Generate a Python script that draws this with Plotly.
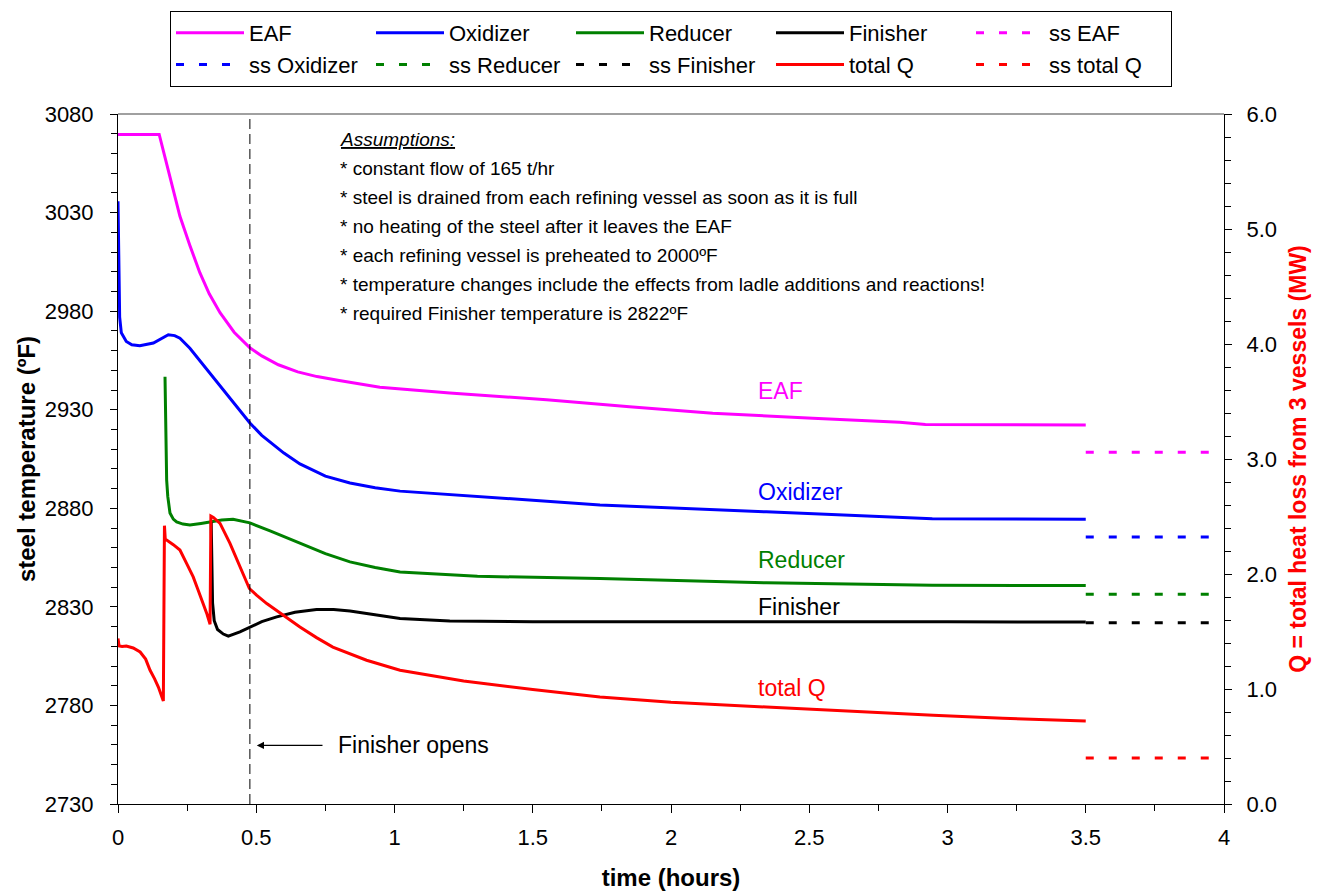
import plotly.graph_objects as go

# ---------------- data ----------------
eaf_t = [0, 0.149, 0.17, 0.2, 0.224, 0.26, 0.296, 0.33, 0.369, 0.42, 0.477, 0.52, 0.58, 0.65,
         0.72, 0.8, 0.9, 0.947, 1.2, 1.55, 1.85, 2.151, 2.513, 2.827, 2.92, 3.2, 3.5]
eaf_T = [3069.6, 3069.6, 3058, 3041.6, 3028.1, 3013.3, 2999.5, 2988.8, 2979.2, 2969.3, 2961.4,
         2957.3, 2952.8, 2949.2, 2946.8, 2944.8, 2942.5, 2941.4, 2938.5, 2935, 2931.5, 2928.2,
         2925.7, 2923.6, 2922.5, 2922.4, 2922.3]

ox_t = [0, 0.003, 0.006, 0.012, 0.03, 0.05, 0.079, 0.128, 0.16, 0.182, 0.205, 0.224, 0.26, 0.296,
        0.333, 0.369, 0.405, 0.441, 0.477, 0.52, 0.6, 0.658, 0.75, 0.839, 0.93, 1.02, 1.38, 1.743,
        2.345, 2.945, 3.5]
ox_T = [3035.7, 3000, 2977, 2969, 2964.6, 2962.9, 2962.4, 2963.8, 2966.5, 2968, 2967.6, 2966.3,
        2961.2, 2955, 2948.5, 2942, 2936, 2929.5, 2923.3, 2917, 2908, 2902.5, 2896.3, 2892.8,
        2890.4, 2888.7, 2885.2, 2881.7, 2878.2, 2874.7, 2874.5]

red_t = [0.17, 0.172, 0.174, 0.176, 0.18, 0.188, 0.2, 0.212, 0.235, 0.26, 0.3, 0.333, 0.375, 0.416,
         0.477, 0.55, 0.658, 0.75, 0.839, 0.93, 1.02, 1.3, 1.743, 2.345, 2.945, 3.5]
red_T = [2946.7, 2920, 2903, 2894.3, 2886, 2877.6, 2874.5, 2873.1, 2872, 2871.5, 2872.3, 2873.1,
         2874, 2874.4, 2872.6, 2868.5, 2862.2, 2857, 2852.8, 2850, 2847.7, 2845.5, 2844.4, 2842.2,
         2841, 2840.8]

fin_t = [0.337, 0.339, 0.342, 0.348, 0.36, 0.381, 0.399, 0.441, 0.477, 0.52, 0.574, 0.64, 0.718,
         0.78, 0.839, 0.93, 1.02, 1.2, 1.5, 2.0, 2.5, 3.0, 3.5]
fin_T = [2873, 2850, 2832, 2823, 2818.5, 2816.2, 2815.1, 2817.3, 2819.8, 2822.5, 2824.9, 2827.3,
         2828.6, 2828.6, 2827.9, 2826, 2824.1, 2822.8, 2822.4, 2822.5, 2822.6, 2822.4, 2822.3]

q_t = [0, 0.004, 0.015, 0.03, 0.055, 0.08, 0.1, 0.116, 0.132, 0.146, 0.164, 0.168, 0.171, 0.176,
       0.2, 0.224, 0.248, 0.272, 0.29, 0.308, 0.322, 0.333, 0.336, 0.345, 0.369, 0.405, 0.441,
       0.475, 0.501, 0.538, 0.598, 0.658, 0.718, 0.777, 0.899, 1.02, 1.25, 1.5, 1.743, 2.0, 2.345,
       2.65, 2.948, 3.2, 3.5]
q_Q = [1.44, 1.375, 1.37, 1.374, 1.357, 1.322, 1.26, 1.163, 1.09, 1.017, 0.895, 2.42, 2.30, 2.295,
       2.255, 2.208, 2.092, 1.975, 1.859, 1.743, 1.65, 1.563, 2.504, 2.492, 2.44, 2.266, 2.062,
       1.874, 1.816, 1.743, 1.642, 1.54, 1.447, 1.365, 1.25, 1.163, 1.07, 0.995, 0.93, 0.884,
       0.843, 0.805, 0.771, 0.745, 0.721]

ss_t = [3.5, 3.95]
ss_eaf = 2908.4
ss_ox = 2865.4
ss_red = 2836.4
ss_fin = 2822.0
ss_q = 0.40

finisher_open_t = 0.477

assumption_lines = [
    "<i><u>Assumptions:</u></i>",
    "* constant flow of 165 t/hr",
    "* steel is drained from each refining vessel as soon as it is full",
    "* no heating of the steel after it leaves the EAF",
    "* each refining vessel is preheated to 2000ºF",
    "* temperature changes include the effects from ladle additions and reactions!",
    "* required Finisher temperature is 2822ºF",
]

# ---------------- figure ----------------
FONT = "Arial, Liberation Sans, sans-serif"
MAG, BLUE, GREEN, BLACK, RED = "#FF00FF", "#0000FF", "#008000", "#000000", "#FF0000"
LW = 3
DASH = "8px,15px"

fig = go.Figure()
fig.add_trace(go.Scatter(x=eaf_t, y=eaf_T, name="EAF", mode="lines", line=dict(color=MAG, width=LW)))
fig.add_trace(go.Scatter(x=ox_t, y=ox_T, name="Oxidizer", mode="lines", line=dict(color=BLUE, width=LW)))
fig.add_trace(go.Scatter(x=red_t, y=red_T, name="Reducer", mode="lines", line=dict(color=GREEN, width=LW)))
fig.add_trace(go.Scatter(x=fin_t, y=fin_T, name="Finisher", mode="lines", line=dict(color=BLACK, width=LW)))
fig.add_trace(go.Scatter(x=ss_t, y=[ss_eaf] * 2, name="ss EAF", mode="lines",
                         line=dict(color=MAG, width=LW, dash=DASH)))
fig.add_trace(go.Scatter(x=ss_t, y=[ss_ox] * 2, name="ss Oxidizer", mode="lines",
                         line=dict(color=BLUE, width=LW, dash=DASH)))
fig.add_trace(go.Scatter(x=ss_t, y=[ss_red] * 2, name="ss Reducer", mode="lines",
                         line=dict(color=GREEN, width=LW, dash=DASH)))
fig.add_trace(go.Scatter(x=ss_t, y=[ss_fin] * 2, name="ss Finisher", mode="lines",
                         line=dict(color=BLACK, width=LW, dash=DASH)))
fig.add_trace(go.Scatter(x=q_t, y=q_Q, name="total Q", mode="lines", yaxis="y2",
                         line=dict(color=RED, width=LW)))
fig.add_trace(go.Scatter(x=ss_t, y=[ss_q] * 2, name="ss total Q", mode="lines", yaxis="y2",
                         line=dict(color=RED, width=LW, dash=DASH)))

tickfont = dict(family=FONT, size=22, color="black")
titlefont = dict(family=FONT, size=24, color="black")
common = dict(showgrid=False, zeroline=False)

fig.update_layout(
    width=1320, height=893,
    margin=dict(l=110, r=104, t=106, b=97),
    paper_bgcolor="white", plot_bgcolor="white",
    font=dict(family=FONT, size=20, color="black"),
    showlegend=True,
    legend=dict(orientation="h", x=0.5, xanchor="center", xref="paper",
                y=1 - 3 / 893, yanchor="top", yref="container",
                bordercolor="black", borderwidth=1, bgcolor="white",
                font=dict(family=FONT, size=22, color="black"),
                itemwidth=68, entrywidth=117, entrywidthmode="pixels", tracegroupgap=0),
    xaxis=dict(range=[0, 4], dtick=0.5, tick0=0, ticks="outside", ticklen=8, tickcolor="black",
               showline=True, linecolor="black", linewidth=1, tickfont=tickfont,
               ticklabelstandoff=6,
               minor=dict(dtick=0.25, ticks="outside", ticklen=6, tickcolor="black"),
               title=dict(text="<b>time (hours)</b>", font=titlefont, standoff=19),
               **common),
    xaxis2=dict(range=[0, 4], dtick=0.5, tick0=0, overlaying="x", anchor="y", side="bottom",
                ticks="inside", ticklen=8, tickcolor="black", showticklabels=False,
                showline=False, **common),
    yaxis=dict(range=[2730, 3080], dtick=50, tick0=2730, ticks="outside", ticklen=7,
               tickcolor="black", showline=True, linecolor="black", linewidth=1, tickfont=tickfont,
               ticklabelstandoff=12,
               minor=dict(dtick=10, ticks="outside", ticklen=6, tickcolor="black"),
               title=dict(text="<b>steel temperature (ºF)</b>", font=titlefont, standoff=2),
               **common),
    yaxis3=dict(range=[2730, 3080], dtick=50, tick0=2730, overlaying="y", anchor="x", side="left",
                ticks="inside", ticklen=7, tickcolor="black", showticklabels=False,
                showline=False, **common),
    yaxis2=dict(range=[0, 6], dtick=1, tick0=0, tickformat=".1f", overlaying="y", side="right",
                anchor="x", ticks="outside", ticklen=7, tickcolor="black", showline=True,
                linecolor="black", linewidth=1, tickfont=tickfont, ticklabelstandoff=10,
                minor=dict(dtick=0.2, ticks="outside", ticklen=6, tickcolor="black"),
                title=dict(text="<b>Q = total heat loss from 3 vessels (MW)</b>",
                           font=dict(family=FONT, size=23, color=RED), standoff=13),
                **common),
    yaxis4=dict(range=[0, 6], dtick=1, tick0=0, overlaying="y", anchor="x", side="right",
                ticks="inside", ticklen=7, tickcolor="black", showticklabels=False,
                showline=False, **common),
)

# top frame line of plot area
fig.add_shape(type="line", xref="paper", yref="paper", x0=0, x1=1, y0=1, y1=1,
              line=dict(color="#808080", width=1.5))
# "Finisher opens" vertical dashed line
fig.add_shape(type="line", xref="x", yref="paper", x0=finisher_open_t, x1=finisher_open_t,
              y0=0, y1=1, line=dict(color="black", width=1, dash="10px,5px"))

# arrow + text
fig.add_annotation(x=0.502, y=2759.7, ax=0.745, ay=2759.7, xref="x", yref="y", axref="x",
                   ayref="y", text="", showarrow=True, arrowhead=2, arrowsize=1.2,
                   arrowwidth=1.2, arrowcolor="black")
fig.add_annotation(x=0.788, y=2759.7, xref="x", yref="y", text="Finisher opens",
                   showarrow=False, xanchor="left", yanchor="middle",
                   font=dict(family=FONT, size=23, color="black"))

# assumptions block
top_px, step_px, plot_top, plot_h = 140, 29, 114.5, 689
for i, line in enumerate(assumption_lines):
    ypix = top_px + i * step_px
    fig.add_annotation(x=0.795, y=1 - (ypix - plot_top) / plot_h, xref="x", yref="paper",
                       text=line, showarrow=False, xanchor="left", yanchor="middle",
                       font=dict(family=FONT, size=19, color="black"))

# series labels
label_x = 2.309
for txt, yv, col, yr in [("EAF", 2939.7, MAG, "y"), ("Oxidizer", 2888.4, BLUE, "y"),
                         ("Reducer", 2853.8, GREEN, "y"), ("Finisher", 2830.0, BLACK, "y"),
                         ("total Q", 1.006, RED, "y2")]:
    fig.add_annotation(x=label_x, y=yv, xref="x", yref=yr, text=txt, showarrow=False,
                       xanchor="left", yanchor="middle", font=dict(family=FONT, size=23, color=col))

fig.write_html("out.html")
